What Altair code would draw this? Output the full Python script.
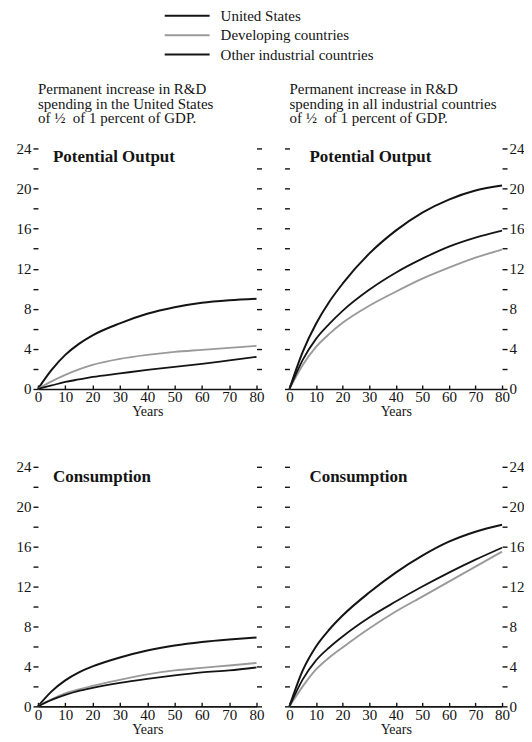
import altair as alt
import pandas as pd

FONT = "Liberation Serif"
INK = "#141414"

years = [0, 5, 10, 15, 20, 30, 40, 50, 60, 70, 80]
series_names = ["United States", "Developing countries", "Other industrial countries"]

# Left column: permanent R&D increase in the United States only
out_us_us = [0, 1.9, 3.4, 4.5, 5.35, 6.55, 7.5, 8.15, 8.6, 8.85, 9.0]
out_us_dev = [0, 0.75, 1.4, 1.95, 2.4, 3.0, 3.4, 3.7, 3.9, 4.1, 4.3]
out_us_oth = [0, 0.35, 0.7, 0.95, 1.2, 1.55, 1.9, 2.2, 2.5, 2.85, 3.2]

con_us_us = [0, 1.5, 2.6, 3.4, 4.0, 4.9, 5.6, 6.1, 6.45, 6.7, 6.9]
con_us_dev = [0, 0.7, 1.3, 1.7, 2.05, 2.65, 3.2, 3.6, 3.85, 4.1, 4.35]
con_us_oth = [0, 0.65, 1.15, 1.55, 1.85, 2.35, 2.75, 3.1, 3.4, 3.6, 3.9]

# Right column: permanent R&D increase in all industrial countries
out_all_us = [0, 3.7, 6.5, 8.7, 10.5, 13.5, 15.8, 17.6, 18.9, 19.8, 20.3]
out_all_dev = [0, 2.4, 4.2, 5.5, 6.6, 8.3, 9.7, 11.0, 12.1, 13.1, 13.9]
out_all_oth = [0, 2.9, 5.0, 6.5, 7.8, 9.9, 11.6, 13.0, 14.2, 15.1, 15.8]

con_all_us = [0, 3.6, 6.0, 7.7, 9.1, 11.4, 13.4, 15.1, 16.5, 17.5, 18.2]
con_all_dev = [0, 2.0, 3.7, 4.9, 5.9, 7.8, 9.5, 11.0, 12.5, 14.0, 15.5]
con_all_oth = [0, 2.7, 4.6, 5.9, 7.0, 8.9, 10.5, 12.0, 13.4, 14.7, 15.9]

y_ticks = list(range(0, 25, 2))
x_ticks = list(range(0, 81, 10))
label_expr = "datum.value % 4 == 0 ? datum.label : ''"

title_left = ["Permanent increase in R&D", "spending in the United States", "of \u00bd\u00a0 of 1 percent of GDP."]
title_right = ["Permanent increase in R&D", "spending in all industrial countries", "of \u00bd\u00a0 of 1 percent of GDP."]

color_enc = alt.Color("series:N", scale=alt.Scale(domain=series_names, range=[INK, "#9a9a9a", INK]), legend=None)
width_enc = alt.StrokeWidth("series:N", scale=alt.Scale(domain=series_names, range=[2.0, 1.8, 2.0]), legend=None)


def make_df(a, b, c):
    return pd.DataFrame({
        "year": years * 3,
        "value": a + b + c,
        "series": [s for s in series_names for _ in years],
    })


def panel(df, name, width, height, left_labels, right_labels, title_lines, tx, ty):
    xs = alt.Scale(domain=[0, 80], nice=False)
    ys = alt.Scale(domain=[0, 24], nice=False)
    lines = alt.Chart(df).mark_line(interpolate="monotone").encode(
        x=alt.X("year:Q", scale=xs, axis=alt.Axis(
            orient="bottom", values=x_ticks, title="Years", ticks=False, domain=True,
            domainColor=INK, domainWidth=1.6, grid=False, labelFont=FONT, labelFontSize=15,
            labelColor=INK, labelPadding=1, labelFlush=False, labelOverlap=False,
            titleFont=FONT, titleFontSize=14, titleFontWeight="normal", titleColor=INK,
            titlePadding=0)),
        y=alt.Y("value:Q", scale=ys, axis=alt.Axis(
            orient="left", values=y_ticks, labels=left_labels, labelExpr=label_expr,
            ticks=True, tickSize=5, tickColor=INK, tickWidth=1.4, domain=False, grid=False,
            title=None, labelFont=FONT, labelFontSize=15, labelColor=INK, labelPadding=2,
            labelOverlap=False)),
        color=color_enc,
        strokeWidth=width_enc,
        detail="series:N",
    )
    frame = alt.Chart(df).mark_line(strokeOpacity=0).encode(
        x=alt.X("year:Q", scale=xs, axis=alt.Axis(
            orient="top", offset=-height, values=x_ticks, labels=False, domain=False,
            grid=False, title=None, tickSize=4, tickColor=INK, tickWidth=1.4)),
        y=alt.Y("value:Q", scale=ys, axis=alt.Axis(
            orient="right", values=y_ticks, labels=right_labels, labelExpr=label_expr,
            ticks=True, tickSize=5, tickColor=INK, tickWidth=1.4, domain=False, grid=False,
            title=None, labelFont=FONT, labelFontSize=15, labelColor=INK, labelPadding=2,
            labelOverlap=False)),
        detail="series:N",
    )
    label = alt.Chart(pd.DataFrame({"t": [name]})).mark_text(
        align="left", baseline="middle", font=FONT, fontSize=17, fontWeight="bold", color=INK
    ).encode(text="t:N", x=alt.value(tx), y=alt.value(ty))
    ch = alt.layer(lines, frame, label).resolve_axis(x="independent", y="independent")
    props = dict(width=width, height=height)
    if title_lines:
        props["title"] = alt.TitleParams(
            title_lines, anchor="start", frame="group", font=FONT, fontSize=15,
            fontWeight="normal", color=INK, lineHeight=15, offset=15, dx=0)
    return ch.properties(**props)


LW, RW = 219, 213
TH, BH = 241, 240

tl = panel(make_df(out_us_us, out_us_dev, out_us_oth), "Potential Output", LW, TH, True, False, title_left, 15, 9)
tr = panel(make_df(out_all_us, out_all_dev, out_all_oth), "Potential Output", RW, TH, False, True, title_right, 20, 9)
bl = panel(make_df(con_us_us, con_us_dev, con_us_oth), "Consumption", LW, BH, True, False, None, 15, 10)
br = panel(make_df(con_all_us, con_all_dev, con_all_oth), "Consumption", RW, BH, False, True, None, 20, 10)

leg_df = pd.DataFrame({"series": series_names})
leg_y = alt.Y("series:N", sort=series_names, axis=None,
              scale=alt.Scale(type="point", domain=series_names, range=[5, 44], padding=0))
leg_lines = alt.Chart(leg_df).mark_rule(strokeWidth=2).encode(
    x=alt.value(127), x2=alt.value(172), y=leg_y, color=color_enc)
leg_text = alt.Chart(leg_df).mark_text(align="left", baseline="middle", font=FONT, fontSize=15, color=INK).encode(
    x=alt.value(183), y=leg_y, text="series:N")
legend = alt.layer(leg_lines, leg_text).properties(width=480, height=50)

top_row = alt.hconcat(tl, tr, spacing=19)
bottom_row = alt.hconcat(bl, br, spacing=19)
grid = alt.vconcat(top_row, bottom_row, spacing=41)

chart = alt.vconcat(legend, grid, spacing=19).properties(
    padding={"left": 8, "top": 0, "right": 0, "bottom": 0},
    background="white",
).configure_view(stroke=None)

chart.save("out.html", embed_options={"renderer": "svg", "actions": False})
